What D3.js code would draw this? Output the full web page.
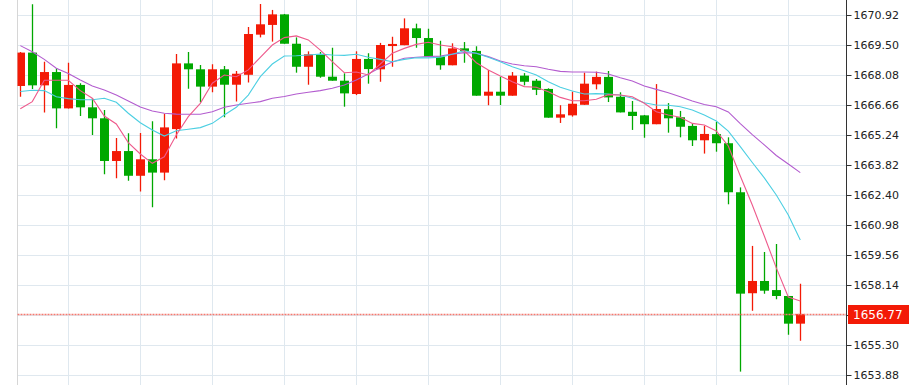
<!DOCTYPE html>
<html>
<head>
<meta charset="utf-8">
<script src="https://cdn.jsdelivr.net/npm/d3@7/dist/d3.min.js"></script>
<style>
  html, body { margin: 0; padding: 0; background: #fff; }
  svg { display: block; }
  .tick text { font-family: "DejaVu Sans", Verdana, sans-serif; font-size: 11px; fill: #222; }
</style>
</head>
<body>
<div id="chart"></div>
<script>
// candles, oldest first (red = up, green = down)
var opens = [1667.56,1669.14,1667.59,1668.22,1666.50,1667.61,1666.55,1666.03,1664.01,1664.48,
  1663.31,1664.09,1663.46,1665.52,1668.63,1668.35,1667.53,1668.35,1667.62,1668.09,
  1669.99,1670.45,1670.95,1669.56,1668.47,1669.06,1668.00,1667.81,1667.18,1668.84,
  1668.35,1669.45,1669.49,1670.29,1669.83,1668.95,1668.54,1669.34,1669.22,1667.10,
  1667.29,1667.10,1668.05,1667.81,1667.42,1666.06,1666.17,1666.67,1667.64,1667.99,
  1667.05,1666.34,1666.17,1665.75,1666.46,1666.08,1665.67,1664.99,1665.28,1664.85,
  1662.53,1657.75,1658.33,1657.90,1657.62,1656.31];
var highs = [1669.17,1671.43,1668.71,1668.40,1668.66,1667.69,1666.98,1666.42,1665.10,1665.32,
  1665.33,1665.89,1666.25,1669.07,1669.17,1668.55,1668.59,1668.51,1668.27,1670.35,
  1671.44,1671.16,1670.97,1669.86,1669.20,1669.17,1669.37,1668.16,1669.20,1669.11,
  1669.60,1669.89,1670.76,1670.51,1670.27,1669.70,1669.58,1669.64,1669.44,1668.32,
  1668.00,1668.22,1668.17,1667.89,1667.45,1666.65,1667.29,1668.19,1668.24,1668.27,
  1667.26,1666.85,1666.19,1667.65,1666.75,1666.38,1665.79,1665.67,1665.86,1665.13,
  1662.76,1659.99,1659.70,1660.08,1657.62,1658.20];
var lows = [1667.05,1667.42,1666.31,1665.56,1666.50,1666.14,1665.24,1663.38,1663.19,1663.08,
  1662.56,1661.82,1663.10,1665.08,1667.43,1666.79,1667.26,1666.08,1666.82,1667.73,
  1669.86,1669.66,1669.56,1668.19,1667.62,1667.95,1667.81,1666.58,1667.13,1667.67,
  1667.76,1668.47,1669.49,1669.37,1668.95,1668.33,1668.54,1668.66,1667.10,1666.65,
  1666.66,1667.10,1667.59,1667.13,1666.06,1665.81,1666.11,1666.67,1667.40,1666.80,
  1666.31,1665.48,1665.11,1665.75,1665.35,1665.13,1664.72,1664.36,1664.45,1661.96,
  1654.04,1656.92,1657.73,1657.46,1655.79,1655.50];
var closes = [1669.14,1667.59,1668.22,1666.50,1667.61,1666.55,1666.03,1664.01,1664.48,1663.31,
  1664.09,1663.46,1665.60,1668.63,1668.35,1667.53,1668.35,1667.62,1668.14,1670.02,
  1670.48,1670.95,1669.56,1668.47,1669.06,1668.00,1667.81,1667.21,1668.84,1668.36,
  1669.50,1669.55,1670.29,1669.83,1668.95,1668.54,1669.34,1669.22,1667.10,1667.29,
  1667.10,1668.05,1667.76,1667.38,1666.06,1666.22,1666.72,1667.67,1667.99,1667.02,
  1666.31,1666.14,1665.75,1666.47,1666.03,1665.63,1664.99,1665.29,1664.85,1662.53,
  1657.73,1658.33,1657.87,1657.62,1656.31,1656.77];

// moving averages as drawn
var ma5 = [1666.48,1666.82,1667.83,1667.83,1667.83,1667.34,1666.98,1666.14,1665.76,1664.88,
  1664.34,1663.90,1664.21,1665.24,1666.11,1666.74,1667.69,1668.08,1668.00,1668.32,
  1668.92,1669.50,1669.85,1669.93,1669.74,1669.26,1668.71,1668.19,1668.22,1668.08,
  1668.60,1669.11,1669.34,1669.53,1669.63,1669.50,1669.42,1669.22,1668.66,1668.32,
  1668.03,1667.76,1667.53,1667.50,1667.29,1667.02,1666.86,1666.86,1666.93,1667.15,
  1667.13,1667.05,1666.74,1666.34,1666.19,1666.08,1665.79,1665.71,1665.43,1664.72,
  1663.30,1661.93,1660.46,1658.95,1657.57,1657.38];
var ma10 = [1667.30,1667.36,1667.34,1667.05,1666.96,1666.91,1666.91,1666.98,1666.79,1666.27,
  1665.82,1665.48,1665.19,1665.44,1665.51,1665.59,1665.79,1666.19,1666.55,1667.13,
  1668.00,1668.60,1668.98,1668.99,1669.03,1669.07,1669.03,1669.01,1669.06,1668.92,
  1668.82,1668.71,1668.82,1668.90,1668.89,1668.92,1669.06,1669.23,1669.11,1668.92,
  1668.71,1668.47,1668.28,1668.08,1667.76,1667.50,1667.32,1667.18,1667.20,1667.18,
  1667.13,1666.98,1666.77,1666.66,1666.65,1666.58,1666.42,1666.19,1665.90,1665.42,
  1664.69,1663.94,1663.21,1662.40,1661.45,1660.27];
var ma20 = [1669.47,1669.18,1668.82,1668.40,1668.15,1667.84,1667.56,1667.37,1667.13,1666.85,
  1666.57,1666.38,1666.27,1666.23,1666.22,1666.22,1666.34,1666.55,1666.66,1666.74,
  1666.82,1666.98,1667.06,1667.18,1667.26,1667.34,1667.45,1667.61,1667.84,1668.13,
  1668.43,1668.70,1668.87,1668.92,1668.95,1668.98,1669.07,1669.14,1669.11,1668.95,
  1668.74,1668.60,1668.52,1668.47,1668.35,1668.25,1668.22,1668.22,1668.21,1668.13,
  1667.95,1667.80,1667.56,1667.40,1667.24,1667.05,1666.85,1666.68,1666.58,1666.33,
  1665.78,1665.26,1664.77,1664.27,1663.87,1663.46];

var tickLabels = ["1670.92","1669.50","1668.08","1666.66","1665.24","1663.82","1662.40",
  "1660.98","1659.56","1658.14","1656.72","1655.30","1653.88"];
var lastPrice = 1656.77;

function candleChart() {
  var width = 909;
  var height = 385;
  var left = 17.5;     // plot's left edge
  var axisX = 846.5;   // price axis line

  var upColor = '#f31a06';
  var downColor = '#00a800';
  var lineColors = { ma5: '#ee5a8c', ma10: '#4ccfe2', ma20: '#b35ccf' };

  var ticks = tickLabels.map(Number);

  var x = d3.scaleLinear().domain([0, closes.length - 1]).range([20.3, 800.3]);
  var y = d3.scaleLinear().domain([ticks[ticks.length - 1], ticks[0]]).range([375, 15]);
  var bodyW = 9;

  var svg = d3.select('#chart').append('svg')
    .attr('width', width)
    .attr('height', height);

  svg.append('clipPath').attr('id', 'plot')
    .append('rect').attr('x', left).attr('y', 0)
    .attr('width', axisX - left).attr('height', height);

  // grid
  var grid = svg.append('g').attr('stroke', '#dfe8ef').attr('stroke-width', 1);
  grid.selectAll('.h').data(ticks).enter().append('line')
    .attr('x1', left).attr('x2', axisX)
    .attr('y1', function(d) { return Math.round(y(d)) + 0.5; })
    .attr('y2', function(d) { return Math.round(y(d)) + 0.5; });
  grid.selectAll('.v').data(d3.range(4, closes.length, 6)).enter().append('line')
    .attr('x1', function(d) { return Math.round(x(d)) + 0.5; })
    .attr('x2', function(d) { return Math.round(x(d)) + 0.5; })
    .attr('y1', 0).attr('y2', height);

  // left border
  svg.append('line').attr('x1', left).attr('x2', left).attr('y1', 0).attr('y2', height)
    .attr('stroke', '#d6d6d6');

  var plot = svg.append('g').attr('clip-path', 'url(#plot)');

  var candles = closes.map(function(c, i) {
    return { i: i, o: opens[i], h: highs[i], l: lows[i], c: c };
  });

  var g = plot.selectAll('.candle').data(candles).enter().append('g');
  g.append('line')
    .attr('x1', function(d) { return Math.round(x(d.i)) + 0.5; })
    .attr('x2', function(d) { return Math.round(x(d.i)) + 0.5; })
    .attr('y1', function(d) { return y(d.h); })
    .attr('y2', function(d) { return y(d.l); })
    .attr('stroke', function(d) { return d.c >= d.o ? upColor : downColor; })
    .attr('stroke-width', 1.3);
  g.append('rect')
    .attr('x', function(d) { return Math.round(x(d.i)) + 0.5 - bodyW / 2; })
    .attr('y', function(d) { return y(Math.max(d.o, d.c)); })
    .attr('width', bodyW)
    .attr('height', function(d) { return Math.max(1.5, Math.abs(y(d.o) - y(d.c))); })
    .attr('fill', function(d) { return d.c >= d.o ? upColor : downColor; });

  // moving averages
  var line = d3.line().x(function(d, i) { return x(i); }).y(function(d) { return y(d); });
  [['ma20', ma20], ['ma10', ma10], ['ma5', ma5]].forEach(function(s) {
    plot.append('path').datum(s[1])
      .attr('d', line)
      .attr('fill', 'none')
      .attr('stroke', lineColors[s[0]])
      .attr('stroke-width', 1.1);
  });

  // last price line
  var ly = Math.round(y(lastPrice)) + 0.5;
  svg.append('line').attr('x1', left).attr('x2', axisX).attr('y1', ly).attr('y2', ly)
    .attr('stroke', '#f47a70').attr('stroke-width', 1.6).attr('stroke-dasharray', '2,1');

  // price axis; the label under the price tag is covered, so it is left blank
  var axis = d3.axisRight(y).tickValues(ticks).tickSize(5).tickPadding(2)
    .tickFormat(function(d, i) {
      return Math.abs(d - lastPrice) < 0.5 ? '' : tickLabels[i];
    });
  var ax = svg.append('g').attr('transform', 'translate(' + axisX + ',0)').call(axis);
  ax.select('.domain').attr('stroke', '#333').attr('d', 'M0,0V' + height);
  ax.selectAll('.tick line').attr('stroke', '#333');

  // last price tag
  svg.append('rect').attr('x', 848).attr('y', ly - 9.5).attr('width', 61).attr('height', 19)
    .attr('fill', upColor);
  svg.append('text').attr('x', 853).attr('y', ly).attr('dy', '0.36em')
    .attr('fill', '#fff')
    .style('font-family', '"DejaVu Sans", Verdana, sans-serif').style('font-size', '12px')
    .text(lastPrice.toFixed(2));
}

candleChart();
</script>
</body>
</html>
